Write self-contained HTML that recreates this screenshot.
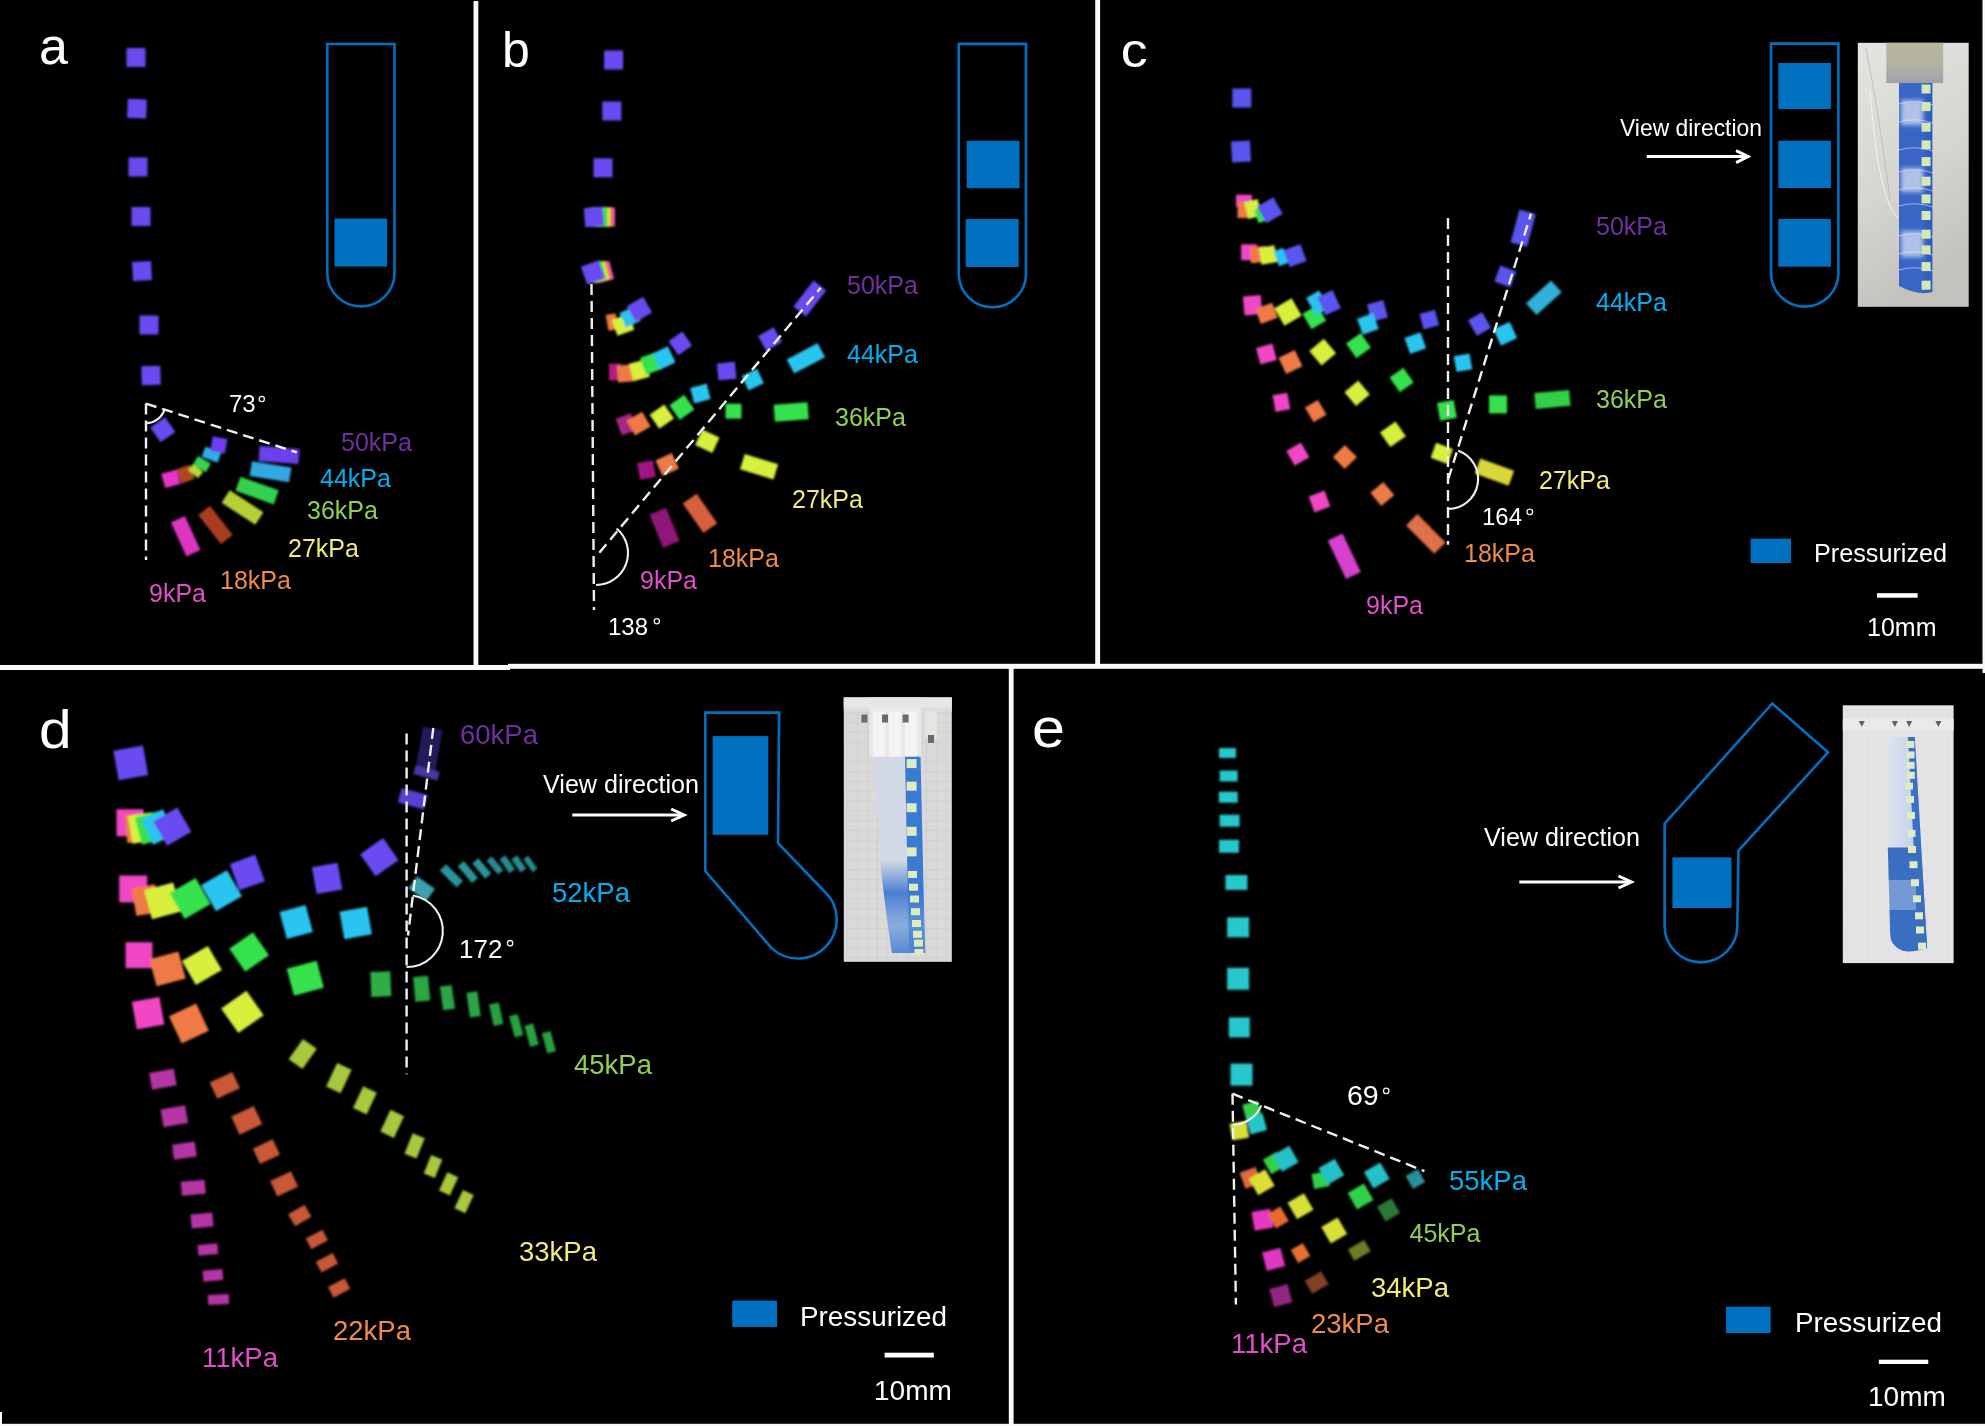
<!DOCTYPE html>
<html><head><meta charset="utf-8"><style>
html,body{margin:0;padding:0;background:#000;overflow:hidden}
svg{display:block}
text{font-family:"Liberation Sans",sans-serif}
</style></head><body>
<svg width="1985" height="1426" viewBox="0 0 1985 1426">
<rect x="0" y="0" width="1985" height="1426" fill="#000"/>
<defs><filter id="bl" x="-5%" y="-5%" width="110%" height="110%"><feGaussianBlur stdDeviation="1"/></filter></defs><g filter="url(#bl)"><rect x="126.5" y="48.0" width="19.0" height="19.0" fill="#6b4cf2"/>
<rect x="127.5" y="99.1" width="19.0" height="19.0" fill="#6b4cf2" transform="rotate(2 137.0 108.6)"/>
<rect x="128.5" y="157.5" width="19.0" height="19.0" fill="#6b4cf2"/>
<rect x="131.5" y="207.0" width="19.0" height="19.0" fill="#6b4cf2"/>
<rect x="132.5" y="261.5" width="19.0" height="19.0" fill="#6b4cf2" transform="rotate(-3 142.0 271.0)"/>
<rect x="139.5" y="315.5" width="19.0" height="19.0" fill="#6b4cf2"/>
<rect x="141.5" y="366.0" width="19.0" height="19.0" fill="#6b4cf2" transform="rotate(-2 151.0 375.5)"/>
<rect x="153.8" y="420.7" width="18.0" height="18.0" fill="#6b4cf2" transform="rotate(-35 162.8 429.7)"/>
<rect x="162.9" y="471.3" width="16.0" height="15.0" fill="#e434c4" transform="rotate(-15 170.9 478.8)"/>
<rect x="178.5" y="466.7" width="14.0" height="15.0" fill="#b04424" transform="rotate(-20 185.5 474.2)"/>
<rect x="189.1" y="467.0" width="13.0" height="8.0" fill="#b8d834" transform="rotate(40 195.6 471.0)"/>
<rect x="194.4" y="459.2" width="15.0" height="10.0" fill="#34d450" transform="rotate(30 201.9 464.2)"/>
<rect x="203.0" y="449.1" width="17.0" height="11.0" fill="#30ace4" transform="rotate(20 211.5 454.6)"/>
<rect x="211.3" y="437.5" width="15.0" height="15.0" fill="#6c40f0" transform="rotate(10 218.8 445.0)"/>
<rect x="259.0" y="447.5" width="40.0" height="15.0" fill="#6c40f0" transform="rotate(4 279.0 455.0)"/>
<rect x="250.5" y="464.2" width="40.0" height="15.0" fill="#30a8e0" transform="rotate(9 270.5 471.7)"/>
<rect x="236.8" y="483.1" width="40.6" height="15.0" fill="#34d050" transform="rotate(19.6 257.1 490.6)"/>
<rect x="222.4" y="500.0" width="40.2" height="15.0" fill="#b4d034" transform="rotate(33 242.5 507.5)"/>
<rect x="197.0" y="517.5" width="37.0" height="15.0" fill="#a83c22" transform="rotate(52 215.5 525.0)"/>
<rect x="166.9" y="528.5" width="37.5" height="15.5" fill="#dc34c0" transform="rotate(65.6 185.7 536.2)"/>
<rect x="604.1" y="50.5" width="19.0" height="19.0" fill="#6b4cf2"/>
<rect x="602.3" y="101.5" width="19.0" height="19.0" fill="#6b4cf2"/>
<rect x="593.5" y="158.3" width="19.0" height="19.0" fill="#6b4cf2"/>
<rect x="597.0" y="207.5" width="18.0" height="19.0" fill="#f046c4"/>
<rect x="594.5" y="207.5" width="18.0" height="19.0" fill="#f07a44"/>
<rect x="592.0" y="207.5" width="18.0" height="19.0" fill="#d8f03c"/>
<rect x="589.5" y="207.5" width="18.0" height="19.0" fill="#34e24e"/>
<rect x="584.5" y="207.5" width="19.0" height="19.0" fill="#6b4cf2" transform="rotate(-5 594.0 217.0)"/>
<rect x="596.0" y="262.5" width="16.0" height="19.0" fill="#f046c4" transform="rotate(-15 604.0 272.0)"/>
<rect x="593.5" y="262.5" width="16.0" height="19.0" fill="#f07a44" transform="rotate(-15 601.5 272.0)"/>
<rect x="591.0" y="262.5" width="16.0" height="19.0" fill="#d8f03c" transform="rotate(-15 599.0 272.0)"/>
<rect x="588.5" y="262.5" width="16.0" height="19.0" fill="#34e24e" transform="rotate(-15 596.5 272.0)"/>
<rect x="583.5" y="263.0" width="19.0" height="19.0" fill="#6b4cf2" transform="rotate(-20 593.0 272.5)"/>
<rect x="607.0" y="314.0" width="10.0" height="16.0" fill="#f07a44" transform="rotate(-10 612.0 322.0)"/>
<rect x="614.0" y="316.3" width="18.0" height="17.0" fill="#d8f03c" transform="rotate(-20 623.0 324.8)"/>
<rect x="622.0" y="309.0" width="16.0" height="16.0" fill="#2cc4f0" transform="rotate(-25 630.0 317.0)"/>
<rect x="629.9" y="300.4" width="19.0" height="18.0" fill="#6b4cf2" transform="rotate(-30 639.4 309.4)"/>
<rect x="609.0" y="363.5" width="12.0" height="17.0" fill="#b01c80"/>
<rect x="617.5" y="364.9" width="16.0" height="17.0" fill="#f07a44" transform="rotate(-5 625.5 373.4)"/>
<rect x="630.9" y="361.3" width="17.0" height="18.0" fill="#d8f03c" transform="rotate(-15 639.4 370.3)"/>
<rect x="642.5" y="354.4" width="17.0" height="18.0" fill="#34e24e" transform="rotate(-20 651.0 363.4)"/>
<rect x="655.5" y="349.0" width="17.0" height="18.0" fill="#2cc4f0" transform="rotate(-25 664.0 358.0)"/>
<rect x="671.8" y="334.8" width="17.0" height="17.0" fill="#6b4cf2" transform="rotate(-35 680.3 343.3)"/>
<rect x="618.3" y="415.4" width="16.0" height="18.0" fill="#a82888" transform="rotate(-20 626.3 424.4)"/>
<rect x="629.6" y="415.1" width="18.0" height="17.0" fill="#f07a44" transform="rotate(-30 638.6 423.6)"/>
<rect x="652.8" y="408.1" width="18.0" height="17.0" fill="#d8f03c" transform="rotate(-35 661.8 416.6)"/>
<rect x="672.9" y="398.4" width="18.0" height="18.0" fill="#34e24e" transform="rotate(-35 681.9 407.4)"/>
<rect x="691.9" y="385.5" width="17.0" height="16.0" fill="#2cc4f0" transform="rotate(-15 700.4 393.5)"/>
<rect x="717.6" y="362.6" width="18.0" height="17.0" fill="#6b4cf2" transform="rotate(-5 726.6 371.1)"/>
<rect x="761.0" y="330.6" width="18.0" height="17.0" fill="#6b4cf2" transform="rotate(-30 770.0 339.1)"/>
<rect x="793.3" y="290.5" width="33.0" height="16.0" fill="#6b4cf2" transform="rotate(-52 809.8 298.5)"/>
<rect x="744.3" y="371.6" width="17.0" height="16.0" fill="#2cc4f0" transform="rotate(-25 752.8 379.6)"/>
<rect x="725.5" y="403.7" width="16.0" height="15.0" fill="#34e24e"/>
<rect x="697.8" y="432.8" width="19.0" height="17.0" fill="#d8f03c" transform="rotate(25 707.3 441.3)"/>
<rect x="658.2" y="456.0" width="18.0" height="17.0" fill="#f07a44" transform="rotate(-25 667.2 464.5)"/>
<rect x="638.4" y="461.4" width="16.0" height="17.0" fill="#a01880" transform="rotate(-10 646.4 469.9)"/>
<rect x="788.4" y="350.3" width="35.0" height="16.0" fill="#2cc4f0" transform="rotate(-28 805.9 358.3)"/>
<rect x="774.2" y="403.5" width="34.0" height="17.0" fill="#34e24e" transform="rotate(-4 791.2 412.0)"/>
<rect x="741.6" y="458.8" width="35.0" height="16.0" fill="#d8f03c" transform="rotate(17 759.1 466.8)"/>
<rect x="646.6" y="518.7" width="36.0" height="18.0" fill="#901878" transform="rotate(68 664.6 527.7)"/>
<rect x="682.0" y="504.8" width="36.0" height="17.0" fill="#d8603c" transform="rotate(55 700.0 513.3)"/>
<rect x="1232.3" y="88.5" width="19.0" height="19.0" fill="#5a55ee"/>
<rect x="1231.5" y="141.0" width="19.0" height="21.0" fill="#5a55ee" transform="rotate(-3 1241.0 151.5)"/>
<rect x="1236.0" y="194.7" width="16.0" height="12.0" fill="#f046c4"/>
<rect x="1237.5" y="202.0" width="12.0" height="16.0" fill="#f07a44"/>
<rect x="1246.0" y="200.5" width="14.0" height="17.0" fill="#d8f03c" transform="rotate(-15 1253.0 209.0)"/>
<rect x="1256.0" y="208.0" width="10.0" height="14.0" fill="#34e24e" transform="rotate(-20 1261.0 215.0)"/>
<rect x="1260.3" y="200.8" width="19.0" height="19.0" fill="#5a55ee" transform="rotate(-30 1269.8 210.3)"/>
<rect x="1241.1" y="244.3" width="16.0" height="16.0" fill="#f046c4"/>
<rect x="1250.3" y="246.6" width="16.0" height="16.0" fill="#f07a44" transform="rotate(-5 1258.3 254.6)"/>
<rect x="1260.0" y="246.5" width="16.0" height="17.0" fill="#d8f03c" transform="rotate(-10 1268.0 255.0)"/>
<rect x="1276.0" y="249.0" width="10.0" height="16.0" fill="#2cc4f0" transform="rotate(-20 1281.0 257.0)"/>
<rect x="1286.0" y="246.6" width="18.0" height="18.0" fill="#5a55ee" transform="rotate(-20 1295.0 255.6)"/>
<rect x="1243.6" y="295.8" width="18.0" height="19.0" fill="#f046c4" transform="rotate(-5 1252.6 305.3)"/>
<rect x="1257.5" y="305.3" width="18.0" height="16.0" fill="#f07a44" transform="rotate(-20 1266.5 313.3)"/>
<rect x="1278.0" y="302.0" width="20.0" height="20.0" fill="#d8f03c" transform="rotate(-30 1288.0 312.0)"/>
<rect x="1305.8" y="308.2" width="17.0" height="18.0" fill="#34e24e" transform="rotate(-30 1314.3 317.2)"/>
<rect x="1310.1" y="293.0" width="15.0" height="20.0" fill="#2cc4f0" transform="rotate(-30 1317.6 303.0)"/>
<rect x="1320.5" y="292.7" width="17.0" height="20.0" fill="#5a55ee" transform="rotate(-25 1329.0 302.7)"/>
<rect x="1368.9" y="301.9" width="17.0" height="18.0" fill="#5a55ee" transform="rotate(-15 1377.4 310.9)"/>
<rect x="1359.4" y="315.3" width="17.0" height="17.0" fill="#2cc4f0" transform="rotate(-20 1367.9 323.8)"/>
<rect x="1421.3" y="311.6" width="16.0" height="16.0" fill="#5a55ee" transform="rotate(-15 1429.3 319.6)"/>
<rect x="1406.8" y="334.6" width="17.0" height="17.0" fill="#2cc4f0" transform="rotate(-20 1415.3 343.1)"/>
<rect x="1471.5" y="315.7" width="16.0" height="17.0" fill="#5a55ee" transform="rotate(-30 1479.5 324.2)"/>
<rect x="1455.0" y="354.7" width="16.0" height="16.0" fill="#2cc4f0" transform="rotate(-10 1463.0 362.7)"/>
<rect x="1257.9" y="345.5" width="17.0" height="17.0" fill="#f046c4" transform="rotate(-15 1266.4 354.0)"/>
<rect x="1281.5" y="353.0" width="18.0" height="18.0" fill="#f07a44" transform="rotate(-25 1290.5 362.0)"/>
<rect x="1313.2" y="342.7" width="19.0" height="19.0" fill="#d8f03c" transform="rotate(-40 1322.7 352.2)"/>
<rect x="1349.5" y="336.6" width="18.0" height="18.0" fill="#34e24e" transform="rotate(-35 1358.5 345.6)"/>
<rect x="1273.9" y="393.8" width="15.0" height="17.0" fill="#f046c4" transform="rotate(-10 1281.4 402.3)"/>
<rect x="1308.2" y="402.6" width="15.0" height="17.0" fill="#f07a44" transform="rotate(-30 1315.7 411.1)"/>
<rect x="1348.1" y="384.3" width="18.0" height="18.0" fill="#d8f03c" transform="rotate(-40 1357.1 393.3)"/>
<rect x="1393.1" y="370.9" width="17.0" height="18.0" fill="#34e24e" transform="rotate(-35 1401.6 379.9)"/>
<rect x="1289.3" y="445.7" width="17.0" height="17.0" fill="#f046c4" transform="rotate(-30 1297.8 454.2)"/>
<rect x="1336.4" y="448.5" width="17.0" height="17.0" fill="#f07a44" transform="rotate(-45 1344.9 457.0)"/>
<rect x="1383.4" y="425.3" width="19.0" height="18.0" fill="#d8f03c" transform="rotate(-35 1392.9 434.3)"/>
<rect x="1438.4" y="401.4" width="17.0" height="18.0" fill="#34e24e" transform="rotate(-10 1446.9 410.4)"/>
<rect x="1432.8" y="445.4" width="18.0" height="16.0" fill="#d8f03c" transform="rotate(20 1441.8 453.4)"/>
<rect x="1489.0" y="395.4" width="18.0" height="18.0" fill="#34e24e"/>
<rect x="1534.9" y="391.4" width="35.0" height="16.0" fill="#30d048" transform="rotate(-5 1552.4 399.4)"/>
<rect x="1496.8" y="268.0" width="17.0" height="17.0" fill="#5a55ee" transform="rotate(20 1505.3 276.5)"/>
<rect x="1471.5" y="315.0" width="16.0" height="18.0" fill="#5a55ee" transform="rotate(-30 1479.5 324.0)"/>
<rect x="1496.3" y="324.7" width="18.0" height="18.0" fill="#2cc4f0" transform="rotate(-25 1505.3 333.7)"/>
<rect x="1526.8" y="289.8" width="34.0" height="16.0" fill="#30b0d8" transform="rotate(-42 1543.8 297.8)"/>
<rect x="1506.2" y="219.7" width="34.0" height="17.0" fill="#5a55ee" transform="rotate(-75 1523.2 228.2)"/>
<rect x="1476.5" y="464.1" width="36.0" height="16.0" fill="#d8d838" transform="rotate(20 1494.5 472.1)"/>
<rect x="1311.0" y="493.0" width="17.0" height="17.0" fill="#f046c4" transform="rotate(-20 1319.5 501.5)"/>
<rect x="1373.8" y="485.4" width="17.0" height="17.0" fill="#f07a44" transform="rotate(-40 1382.3 493.9)"/>
<rect x="1323.0" y="548.0" width="42.6" height="16.5" fill="#d840d0" transform="rotate(64.5 1344.3 556.2)"/>
<rect x="1405.8" y="525.9" width="40.0" height="16.0" fill="#e0704a" transform="rotate(45 1425.8 533.9)"/>
<rect x="115.8" y="747.8" width="30.0" height="30.0" fill="#6b4cf2" transform="rotate(-10 130.8 762.8)"/>
<rect x="116.5" y="809.2" width="27.0" height="27.0" fill="#f046c4"/>
<rect x="126.0" y="814.0" width="24.0" height="28.0" fill="#f07a44" transform="rotate(-5 138.0 828.0)"/>
<rect x="130.0" y="814.0" width="24.0" height="28.0" fill="#d8f03c" transform="rotate(-10 142.0 828.0)"/>
<rect x="138.0" y="814.0" width="24.0" height="28.0" fill="#34e24e" transform="rotate(-15 150.0 828.0)"/>
<rect x="146.0" y="813.0" width="24.0" height="28.0" fill="#2cc4f0" transform="rotate(-25 158.0 827.0)"/>
<rect x="158.2" y="812.7" width="28.0" height="28.0" fill="#6b4cf2" transform="rotate(-30 172.2 826.7)"/>
<rect x="119.2" y="875.5" width="28.0" height="27.0" fill="#f046c4"/>
<rect x="133.7" y="886.2" width="24.0" height="28.0" fill="#f07a44" transform="rotate(-10 145.7 900.2)"/>
<rect x="147.6" y="885.8" width="30.0" height="30.0" fill="#d8f03c" transform="rotate(-15 162.6 900.8)"/>
<rect x="175.1" y="883.4" width="30.0" height="30.0" fill="#34e24e" transform="rotate(-30 190.1 898.4)"/>
<rect x="206.5" y="875.8" width="30.0" height="30.0" fill="#2cc4f0" transform="rotate(-30 221.5 890.8)"/>
<rect x="233.8" y="858.6" width="27.0" height="28.0" fill="#6b4cf2" transform="rotate(-20 247.3 872.6)"/>
<rect x="314.1" y="864.9" width="26.0" height="27.0" fill="#6b4cf2" transform="rotate(-10 327.1 878.4)"/>
<rect x="365.3" y="843.7" width="28.0" height="27.0" fill="#6b4cf2" transform="rotate(-35 379.3 857.2)"/>
<rect x="125.5" y="942.2" width="27.0" height="26.0" fill="#f046c4"/>
<rect x="152.5" y="954.8" width="30.0" height="28.0" fill="#f07a44" transform="rotate(-15 167.5 968.8)"/>
<rect x="186.9" y="951.5" width="30.0" height="28.0" fill="#d8f03c" transform="rotate(-30 201.9 965.5)"/>
<rect x="234.6" y="938.0" width="29.0" height="28.0" fill="#34e24e" transform="rotate(-35 249.1 952.0)"/>
<rect x="282.7" y="908.0" width="27.0" height="28.0" fill="#2cc4f0" transform="rotate(-15 296.2 922.0)"/>
<rect x="341.7" y="909.0" width="28.0" height="28.0" fill="#2cc4f0" transform="rotate(-10 355.7 923.0)"/>
<rect x="134.1" y="999.2" width="28.0" height="28.0" fill="#f046c4" transform="rotate(-10 148.1 1013.2)"/>
<rect x="173.9" y="1008.5" width="30.0" height="30.0" fill="#f07a44" transform="rotate(-25 188.9 1023.5)"/>
<rect x="226.9" y="996.9" width="31.0" height="30.0" fill="#d8f03c" transform="rotate(-35 242.4 1011.9)"/>
<rect x="289.8" y="964.2" width="31.0" height="28.0" fill="#34e24e" transform="rotate(-15 305.3 978.2)"/>
<rect x="399.3" y="791.3" width="27.0" height="15.0" fill="#5a40d0" transform="rotate(15 412.8 798.8)"/>
<rect x="370.8" y="971.7" width="20.0" height="25.0" fill="#2eae44" transform="rotate(-2 380.8 984.2)"/>
<rect x="414.2" y="976.3" width="15.0" height="25.0" fill="#2aa644" transform="rotate(-5 421.7 988.8)"/>
<rect x="441.4" y="985.6" width="12.0" height="24.0" fill="#2aa644" transform="rotate(-8 447.4 997.6)"/>
<rect x="468.1" y="991.8" width="11.0" height="25.0" fill="#2aa644" transform="rotate(-8 473.6 1004.3)"/>
<rect x="491.2" y="1003.3" width="10.0" height="22.0" fill="#28a040" transform="rotate(-12 496.2 1014.3)"/>
<rect x="511.7" y="1014.8" width="9.0" height="22.0" fill="#28a040" transform="rotate(-15 516.2 1025.8)"/>
<rect x="527.1" y="1024.1" width="9.0" height="22.0" fill="#28a040" transform="rotate(-15 531.6 1035.1)"/>
<rect x="544.4" y="1031.8" width="9.0" height="21.0" fill="#28a040" transform="rotate(-15 548.9 1042.3)"/>
<rect x="418.6" y="728.2" width="20.0" height="48.0" fill="#221c64" opacity="0.9" transform="rotate(10 428.6 752.2)"/>
<rect x="414.0" y="768.4" width="25.0" height="9.0" fill="#4a38a0" transform="rotate(15 426.5 772.9)"/>
<rect x="410.7" y="881.1" width="22.0" height="15.0" fill="#3aa0b0" transform="rotate(35 421.7 888.6)"/>
<rect x="446.9" y="863.8" width="9.0" height="24.0" fill="#2a9498" transform="rotate(-45 451.4 875.8)"/>
<rect x="463.9" y="861.1" width="8.0" height="22.0" fill="#2a9498" transform="rotate(-40 467.9 872.1)"/>
<rect x="477.8" y="858.5" width="8.0" height="20.0" fill="#2a9498" transform="rotate(-40 481.8 868.5)"/>
<rect x="491.4" y="856.4" width="7.0" height="18.0" fill="#288a90" transform="rotate(-40 494.9 865.4)"/>
<rect x="503.8" y="855.7" width="7.0" height="17.0" fill="#288a90" transform="rotate(-35 507.3 864.2)"/>
<rect x="515.3" y="855.9" width="7.0" height="16.0" fill="#288a90" transform="rotate(-35 518.8 863.9)"/>
<rect x="527.4" y="855.9" width="6.0" height="16.0" fill="#288a90" transform="rotate(-35 530.4 863.9)"/>
<rect x="150.4" y="1070.6" width="25.0" height="17.0" fill="#b434a4" transform="rotate(-10 162.9 1079.1)"/>
<rect x="161.8" y="1107.2" width="25.0" height="18.0" fill="#b434a4" transform="rotate(-10 174.3 1116.2)"/>
<rect x="172.9" y="1143.1" width="23.0" height="15.0" fill="#b434a4" transform="rotate(-8 184.4 1150.6)"/>
<rect x="181.2" y="1180.7" width="24.0" height="14.0" fill="#b434a4" transform="rotate(-5 193.2 1187.7)"/>
<rect x="191.0" y="1213.5" width="22.0" height="14.0" fill="#b434a4" transform="rotate(-5 202.0 1220.5)"/>
<rect x="197.9" y="1244.0" width="20.0" height="11.0" fill="#b434a4" transform="rotate(-5 207.9 1249.5)"/>
<rect x="202.9" y="1269.8" width="20.0" height="11.0" fill="#b434a4" transform="rotate(-5 212.9 1275.3)"/>
<rect x="208.0" y="1294.5" width="21.0" height="10.0" fill="#b434a4" transform="rotate(-3 218.5 1299.5)"/>
<rect x="212.3" y="1076.4" width="25.0" height="18.0" fill="#c85838" transform="rotate(-25 224.8 1085.4)"/>
<rect x="234.2" y="1110.3" width="25.0" height="20.0" fill="#c85838" transform="rotate(-25 246.7 1120.3)"/>
<rect x="255.4" y="1143.1" width="22.0" height="17.0" fill="#c85838" transform="rotate(-25 266.4 1151.6)"/>
<rect x="272.6" y="1175.4" width="23.0" height="17.0" fill="#c85838" transform="rotate(-25 284.1 1183.9)"/>
<rect x="290.3" y="1208.5" width="19.0" height="14.0" fill="#c85838" transform="rotate(-30 299.8 1215.5)"/>
<rect x="307.4" y="1233.4" width="19.0" height="12.0" fill="#c85838" transform="rotate(-28 316.9 1239.4)"/>
<rect x="317.5" y="1256.7" width="19.0" height="12.0" fill="#c85838" transform="rotate(-28 327.0 1262.7)"/>
<rect x="329.6" y="1281.9" width="19.0" height="12.0" fill="#c85838" transform="rotate(-28 339.1 1287.9)"/>
<rect x="294.2" y="1041.5" width="17.0" height="25.0" fill="#a8c83c" transform="rotate(35 302.7 1054.0)"/>
<rect x="330.9" y="1065.2" width="16.0" height="26.0" fill="#a8c83c" transform="rotate(25 338.9 1078.2)"/>
<rect x="357.4" y="1088.4" width="15.0" height="24.0" fill="#a8c83c" transform="rotate(25 364.9 1100.4)"/>
<rect x="384.7" y="1111.9" width="15.0" height="24.0" fill="#a8c83c" transform="rotate(25 392.2 1123.9)"/>
<rect x="408.1" y="1134.9" width="13.0" height="22.0" fill="#a8c83c" transform="rotate(22 414.6 1145.9)"/>
<rect x="427.0" y="1156.6" width="12.0" height="20.0" fill="#a8c83c" transform="rotate(22 433.0 1166.6)"/>
<rect x="442.6" y="1173.9" width="12.0" height="20.0" fill="#a8c83c" transform="rotate(25 448.6 1183.9)"/>
<rect x="458.1" y="1191.6" width="12.0" height="20.0" fill="#a8c83c" transform="rotate(25 464.1 1201.6)"/>
<rect x="1219.0" y="748.0" width="17.0" height="10.0" fill="#28c8cc"/>
<rect x="1219.6" y="770.5" width="18.0" height="11.0" fill="#28c8cc"/>
<rect x="1218.8" y="791.7" width="19.0" height="11.0" fill="#28c8cc"/>
<rect x="1219.6" y="814.7" width="20.0" height="12.0" fill="#28c8cc"/>
<rect x="1219.0" y="839.8" width="20.0" height="13.0" fill="#28c8cc"/>
<rect x="1225.4" y="875.0" width="22.0" height="15.0" fill="#28c8cc"/>
<rect x="1227.1" y="917.3" width="22.0" height="20.0" fill="#28c8cc"/>
<rect x="1227.1" y="967.8" width="22.0" height="22.0" fill="#28c8cc"/>
<rect x="1228.8" y="1017.4" width="21.0" height="20.0" fill="#28c8cc"/>
<rect x="1230.5" y="1063.6" width="22.0" height="22.0" fill="#28c8cc"/>
<rect x="1244.0" y="1102.5" width="16.0" height="16.0" fill="#30d048" transform="rotate(-15 1252.0 1110.5)"/>
<rect x="1230.8" y="1122.2" width="17.0" height="17.0" fill="#d8e038" transform="rotate(-10 1239.3 1130.7)"/>
<rect x="1248.1" y="1115.5" width="17.0" height="17.0" fill="#28c8cc" transform="rotate(-15 1256.6 1124.0)"/>
<rect x="1266.0" y="1154.5" width="16.0" height="17.0" fill="#30d048" transform="rotate(-30 1274.0 1163.0)"/>
<rect x="1276.2" y="1149.2" width="19.0" height="19.0" fill="#28c0c8" transform="rotate(-30 1285.7 1158.7)"/>
<rect x="1242.0" y="1169.3" width="17.0" height="17.0" fill="#e06a40" transform="rotate(-20 1250.5 1177.8)"/>
<rect x="1252.2" y="1172.8" width="19.0" height="19.0" fill="#d8e038" transform="rotate(-30 1261.7 1182.3)"/>
<rect x="1312.7" y="1172.6" width="16.0" height="15.0" fill="#30d048" transform="rotate(-10 1320.7 1180.1)"/>
<rect x="1321.8" y="1162.3" width="19.0" height="19.0" fill="#28c0c8" transform="rotate(-30 1331.3 1171.8)"/>
<rect x="1367.3" y="1166.1" width="19.0" height="19.0" fill="#28c0c8" transform="rotate(-30 1376.8 1175.6)"/>
<rect x="1408.4" y="1171.4" width="14.0" height="15.0" fill="#2a9098" transform="rotate(-30 1415.4 1178.9)"/>
<rect x="1351.0" y="1186.9" width="19.0" height="19.0" fill="#30d048" transform="rotate(-30 1360.5 1196.4)"/>
<rect x="1380.0" y="1201.4" width="17.0" height="17.0" fill="#2a7838" transform="rotate(-30 1388.5 1209.9)"/>
<rect x="1252.9" y="1210.3" width="19.0" height="19.0" fill="#e838c0" transform="rotate(-10 1262.4 1219.8)"/>
<rect x="1270.6" y="1209.0" width="15.0" height="17.0" fill="#e86a30" transform="rotate(-30 1278.1 1217.5)"/>
<rect x="1291.0" y="1196.8" width="19.0" height="19.0" fill="#d8e038" transform="rotate(-30 1300.5 1206.3)"/>
<rect x="1324.7" y="1221.1" width="19.0" height="19.0" fill="#d8e038" transform="rotate(-30 1334.2 1230.6)"/>
<rect x="1349.8" y="1243.8" width="19.0" height="13.0" fill="#707a28" transform="rotate(-30 1359.3 1250.3)"/>
<rect x="1264.1" y="1249.8" width="19.0" height="19.0" fill="#e038c0" transform="rotate(-15 1273.6 1259.3)"/>
<rect x="1293.5" y="1245.5" width="14.0" height="15.0" fill="#e87030" transform="rotate(-30 1300.5 1253.0)"/>
<rect x="1307.2" y="1275.1" width="19.0" height="15.0" fill="#804028" transform="rotate(-30 1316.7 1282.6)"/>
<rect x="1271.3" y="1286.1" width="19.0" height="19.0" fill="#902880" transform="rotate(-15 1280.8 1295.6)"/></g>
<rect x="473.5" y="1" width="4.8" height="667" fill="#fafafa"/>
<rect x="1095.2" y="0" width="4.9" height="667" fill="#fafafa"/>
<rect x="1982.5" y="0" width="2.5" height="673" fill="#fafafa"/>
<rect x="0" y="665" width="510" height="5" fill="#fafafa"/>
<rect x="508" y="663.8" width="1477" height="5" fill="#fafafa"/>
<rect x="1008.8" y="668" width="4.8" height="756" fill="#fafafa"/>
<rect x="0" y="1423.8" width="1985" height="2.2" fill="#fafafa"/>
<rect x="0" y="1412" width="2" height="14" fill="#fafafa"/>
<text x="39" y="64" font-size="52" fill="#fff">a</text>
<path d="M327.3 272.9 L327.3 44 L394.5 44 L394.5 272.9 A33.599999999999994 33.599999999999994 0 0 1 327.3 272.9" fill="none" stroke="#0070c0" stroke-width="2.6"/>
<rect x="334.5" y="218.5" width="52.7" height="48" fill="#0070c0"/>
<line x1="146" y1="403.6" x2="146" y2="560" stroke="#f0f0f0" stroke-width="2.4" stroke-dasharray="11 6"/>
<line x1="146" y1="403.6" x2="296.7" y2="452.4" stroke="#f0f0f0" stroke-width="2.4" stroke-dasharray="11 6"/>
<path d="M146.0 423.1 A19.5 19.5 0 0 0 164.5 409.6" fill="none" stroke="#f0f0f0" stroke-width="2.1"/>
<text x="229" y="412" font-size="24" fill="#fff">73</text>
<circle cx="261.8" cy="399" r="2.6" fill="none" stroke="#eee" stroke-width="1.3"/>
<text x="341" y="451" font-size="25" fill="#7030a0">50kPa</text>
<text x="320" y="487" font-size="25" fill="#00b0f0">44kPa</text>
<text x="307" y="519" font-size="25" fill="#92d050">36kPa</text>
<text x="288" y="557" font-size="25" fill="#f2ec78">27kPa</text>
<text x="220" y="589" font-size="25" fill="#ee8c48">18kPa</text>
<text x="149" y="602" font-size="25" fill="#e050c8">9kPa</text>
<text x="502" y="67" font-size="50" fill="#fff">b</text>
<path d="M958.8 273.7 L958.8 43.9 L1026 43.9 L1026 273.7 A33.60000000000002 33.60000000000002 0 0 1 958.8 273.7" fill="none" stroke="#0070c0" stroke-width="2.6"/>
<rect x="966.7" y="140.8" width="52.8" height="47.4" fill="#0070c0"/>
<rect x="965.7" y="219.1" width="53" height="47.9" fill="#0070c0"/>
<line x1="591.5" y1="284" x2="594" y2="610" stroke="#f0f0f0" stroke-width="2.4" stroke-dasharray="11 6"/>
<line x1="599.3" y1="552.7" x2="820.7" y2="287.8" stroke="#f0f0f0" stroke-width="2.4" stroke-dasharray="11 6"/>
<path d="M596.0 585.0 A32 32 0 0 0 616.6 528.5" fill="none" stroke="#f0f0f0" stroke-width="2.1"/>
<text x="847" y="294" font-size="25" fill="#7030a0">50kPa</text>
<text x="847" y="363" font-size="25" fill="#00b0f0">44kPa</text>
<text x="835" y="426" font-size="25" fill="#92d050">36kPa</text>
<text x="792" y="508" font-size="25" fill="#f2ec78">27kPa</text>
<text x="708" y="566.5" font-size="25" fill="#ee8c48">18kPa</text>
<text x="640" y="589" font-size="25" fill="#e050c8">9kPa</text>
<text x="608" y="635" font-size="24" fill="#fff">138</text>
<circle cx="656.8" cy="621.3" r="2.6" fill="none" stroke="#eee" stroke-width="1.3"/>
<text transform="translate(1120.8 67) scale(1.12 1)" font-size="48" fill="#fff">c</text>
<line x1="1448" y1="218" x2="1448" y2="544.7" stroke="#f0f0f0" stroke-width="2.4" stroke-dasharray="11 6"/>
<line x1="1448.3" y1="479" x2="1531" y2="213.7" stroke="#f0f0f0" stroke-width="2.4" stroke-dasharray="11 6"/>
<path d="M1448.0 509.0 A30 30 0 0 0 1458.3 450.8" fill="none" stroke="#f0f0f0" stroke-width="2.1"/>
<text x="1596" y="235" font-size="25" fill="#7030a0">50kPa</text>
<text x="1596" y="311.3" font-size="25" fill="#00b0f0">44kPa</text>
<text x="1596" y="407.7" font-size="25" fill="#92d050">36kPa</text>
<text x="1539" y="488.5" font-size="25" fill="#f2ec78">27kPa</text>
<text x="1464" y="561.5" font-size="25" fill="#ee8c48">18kPa</text>
<text x="1366" y="613.7" font-size="25" fill="#e050c8">9kPa</text>
<text x="1482" y="524.5" font-size="24" fill="#fff">164</text>
<circle cx="1529.8" cy="511.9" r="2.8" fill="none" stroke="#eee" stroke-width="1.3"/>
<path d="M1771 272.9 L1771 43.6 L1838.4 43.6 L1838.4 272.9 A33.700000000000045 33.700000000000045 0 0 1 1771 272.9" fill="none" stroke="#0070c0" stroke-width="2.6"/>
<rect x="1778.3" y="63" width="52.6" height="46.1" fill="#0070c0"/>
<rect x="1778.3" y="140.7" width="52.6" height="47.3" fill="#0070c0"/>
<rect x="1778.3" y="218.9" width="52.6" height="47.8" fill="#0070c0"/>
<text x="1620" y="135.6" font-size="24" fill="#fff" textLength="142" lengthAdjust="spacingAndGlyphs">View direction</text>
<line x1="1646.7" y1="156.6" x2="1747.1" y2="156.6" stroke="#fff" stroke-width="3"/>
<polyline points="1736.1,150.6 1748.1,156.6 1736.1,162.6" fill="none" stroke="#fff" stroke-width="3" stroke-linejoin="miter"/>
<rect x="1750.6" y="538.6" width="40.4" height="24.4" fill="#0070c0"/>
<text x="1814" y="562.4" font-size="25" fill="#fff" textLength="133" lengthAdjust="spacingAndGlyphs">Pressurized</text>
<rect x="1877" y="593.2" width="40.6" height="4.5" fill="#fff"/>
<text x="1867" y="635.6" font-size="25" fill="#fff">10mm</text>
<defs><linearGradient id="pgc" x1="0" y1="0" x2="0.3" y2="1"><stop offset="0" stop-color="#e4e4e0"/><stop offset="0.6" stop-color="#d4d4d0"/><stop offset="1" stop-color="#c4c2bc"/></linearGradient><linearGradient id="hold" x1="0" y1="0" x2="0" y2="1"><stop offset="0" stop-color="#bab69c"/><stop offset="0.55" stop-color="#b2b2a2"/><stop offset="1" stop-color="#9ea2a8"/></linearGradient><linearGradient id="colc" x1="0" y1="0" x2="1" y2="0"><stop offset="0" stop-color="#3a64c4"/><stop offset="0.7" stop-color="#3a66c8"/><stop offset="1" stop-color="#2c58b8"/></linearGradient><linearGradient id="bandc" x1="0" y1="0" x2="1" y2="0"><stop offset="0" stop-color="#ffffff" stop-opacity="0.15"/><stop offset="0.35" stop-color="#ffffff" stop-opacity="0.75"/><stop offset="1" stop-color="#ffffff" stop-opacity="0.1"/></linearGradient></defs>
<rect x="1857.8" y="42.8" width="110.9" height="264" fill="url(#pgc)"/>
<path d="M1866 48 Q1880 120 1890 200" fill="none" stroke="#b8b8c0" stroke-width="0.8"/>
<path d="M1870 90 Q1878 200 1898 218" fill="none" stroke="#f4f4f4" stroke-width="1"/>
<path d="M1899 72 L1932.4 72 L1932.4 292 Q1918 296 1899 286 Z" fill="url(#colc)"/>
<defs><filter id="soft" x="-50%" y="-50%" width="200%" height="200%"><feGaussianBlur stdDeviation="2.2"/></filter></defs>
<rect x="1901" y="100" width="22" height="25" fill="#ffffff" opacity="0.6" filter="url(#soft)"/>
<rect x="1901" y="168" width="22" height="24" fill="#ffffff" opacity="0.6" filter="url(#soft)"/>
<rect x="1901" y="231" width="22" height="26" fill="#ffffff" opacity="0.6" filter="url(#soft)"/>
<path d="M1899 104 Q1915 99 1933 105" fill="none" stroke="#e8eef8" stroke-width="0.8" opacity="0.7"/>
<path d="M1899 122 Q1915 117 1933 123" fill="none" stroke="#e8eef8" stroke-width="0.8" opacity="0.7"/>
<path d="M1899 150 Q1915 145 1933 151" fill="none" stroke="#e8eef8" stroke-width="0.8" opacity="0.7"/>
<path d="M1899 172 Q1915 167 1933 173" fill="none" stroke="#e8eef8" stroke-width="0.8" opacity="0.7"/>
<path d="M1899 190 Q1915 185 1933 191" fill="none" stroke="#e8eef8" stroke-width="0.8" opacity="0.7"/>
<path d="M1899 206 Q1915 201 1933 207" fill="none" stroke="#e8eef8" stroke-width="0.8" opacity="0.7"/>
<path d="M1899 236 Q1915 231 1933 237" fill="none" stroke="#e8eef8" stroke-width="0.8" opacity="0.7"/>
<path d="M1899 254 Q1915 249 1933 255" fill="none" stroke="#e8eef8" stroke-width="0.8" opacity="0.7"/>
<path d="M1899 270 Q1915 265 1933 271" fill="none" stroke="#e8eef8" stroke-width="0.8" opacity="0.7"/>
<rect x="1886.3" y="42.8" width="56.9" height="40.3" fill="url(#hold)"/>
<rect x="1921.6" y="84.5" width="9" height="9" fill="#d4e8b4"/>
<rect x="1921.6" y="102.1" width="9" height="9" fill="#d4e8b4"/>
<rect x="1921.6" y="122.7" width="9" height="9" fill="#d4e8b4"/>
<rect x="1921.6" y="140.4" width="9" height="9" fill="#d4e8b4"/>
<rect x="1921.6" y="157.1" width="9" height="9" fill="#d4e8b4"/>
<rect x="1921.6" y="176.7" width="9" height="9" fill="#d4e8b4"/>
<rect x="1921.6" y="194.4" width="9" height="9" fill="#d4e8b4"/>
<rect x="1921.6" y="211.0" width="9" height="9" fill="#d4e8b4"/>
<rect x="1921.6" y="229.7" width="9" height="9" fill="#d4e8b4"/>
<rect x="1921.6" y="245.4" width="9" height="9" fill="#d4e8b4"/>
<rect x="1921.6" y="262.1" width="9" height="9" fill="#d4e8b4"/>
<rect x="1921.6" y="280.7" width="9" height="9" fill="#d4e8b4"/>
<text transform="translate(39 747.9) scale(1.088 1)" font-size="54" fill="#fff">d</text>
<line x1="406.6" y1="733.6" x2="406.6" y2="1074.3" stroke="#f0f0f0" stroke-width="2.4" stroke-dasharray="11 6"/>
<line x1="433.3" y1="728" x2="408" y2="935.5" stroke="#f0f0f0" stroke-width="2.4" stroke-dasharray="11 6"/>
<path d="M406.5 967.0 A36 36 0 0 0 412.8 895.5" fill="none" stroke="#f0f0f0" stroke-width="2.1"/>
<text x="460" y="743.5" font-size="27.5" fill="#7030a0">60kPa</text>
<text x="552" y="902.4" font-size="27.5" fill="#00b0f0">52kPa</text>
<text x="574" y="1074.3" font-size="27.5" fill="#92d050">45kPa</text>
<text x="519" y="1261" font-size="27.5" fill="#f2ec78">33kPa</text>
<text x="333" y="1340.4" font-size="27.5" fill="#ee8c48">22kPa</text>
<text x="202" y="1367" font-size="27.5" fill="#e050c8">11kPa</text>
<text x="459" y="957.9" font-size="26" fill="#fff">172</text>
<circle cx="510.1" cy="943.2" r="2.7" fill="none" stroke="#eee" stroke-width="1.3"/>
<text x="543" y="792.5" font-size="26" fill="#fff" textLength="156" lengthAdjust="spacingAndGlyphs">View direction</text>
<line x1="572.3" y1="815" x2="683.2" y2="815" stroke="#fff" stroke-width="3"/>
<polyline points="671.2,809 684.2,815 671.2,821" fill="none" stroke="#fff" stroke-width="3" stroke-linejoin="miter"/>
<path d="M705.3 712.6 L779.1 712.6 L778 843.2 L824 891 A36 36 0 0 1 771.8 948.4 L705.3 871 Z" fill="none" stroke="#0070c0" stroke-width="2.6" stroke-linejoin="miter"/>
<rect x="712.6" y="736.1" width="55.6" height="98.7" fill="#0070c0"/>
<rect x="843.8" y="697.5" width="108" height="264.3" fill="#dadada"/>
<line x1="848.0" y1="697.5" x2="848.0" y2="961.8" stroke="#cdcdcd" stroke-width="0.7"/>
<line x1="857.8" y1="697.5" x2="857.8" y2="961.8" stroke="#cdcdcd" stroke-width="0.7"/>
<line x1="867.6" y1="697.5" x2="867.6" y2="961.8" stroke="#cdcdcd" stroke-width="0.7"/>
<line x1="877.4" y1="697.5" x2="877.4" y2="961.8" stroke="#cdcdcd" stroke-width="0.7"/>
<line x1="887.2" y1="697.5" x2="887.2" y2="961.8" stroke="#cdcdcd" stroke-width="0.7"/>
<line x1="897.0" y1="697.5" x2="897.0" y2="961.8" stroke="#cdcdcd" stroke-width="0.7"/>
<line x1="906.8" y1="697.5" x2="906.8" y2="961.8" stroke="#cdcdcd" stroke-width="0.7"/>
<line x1="916.6" y1="697.5" x2="916.6" y2="961.8" stroke="#cdcdcd" stroke-width="0.7"/>
<line x1="926.4" y1="697.5" x2="926.4" y2="961.8" stroke="#cdcdcd" stroke-width="0.7"/>
<line x1="936.2" y1="697.5" x2="936.2" y2="961.8" stroke="#cdcdcd" stroke-width="0.7"/>
<line x1="946.0" y1="697.5" x2="946.0" y2="961.8" stroke="#cdcdcd" stroke-width="0.7"/>
<line x1="843.8" y1="703.0" x2="951.8" y2="703.0" stroke="#cdcdcd" stroke-width="0.7"/>
<line x1="843.8" y1="712.8" x2="951.8" y2="712.8" stroke="#cdcdcd" stroke-width="0.7"/>
<line x1="843.8" y1="722.6" x2="951.8" y2="722.6" stroke="#cdcdcd" stroke-width="0.7"/>
<line x1="843.8" y1="732.4" x2="951.8" y2="732.4" stroke="#cdcdcd" stroke-width="0.7"/>
<line x1="843.8" y1="742.2" x2="951.8" y2="742.2" stroke="#cdcdcd" stroke-width="0.7"/>
<line x1="843.8" y1="752.0" x2="951.8" y2="752.0" stroke="#cdcdcd" stroke-width="0.7"/>
<line x1="843.8" y1="761.8" x2="951.8" y2="761.8" stroke="#cdcdcd" stroke-width="0.7"/>
<line x1="843.8" y1="771.6" x2="951.8" y2="771.6" stroke="#cdcdcd" stroke-width="0.7"/>
<line x1="843.8" y1="781.4" x2="951.8" y2="781.4" stroke="#cdcdcd" stroke-width="0.7"/>
<line x1="843.8" y1="791.2" x2="951.8" y2="791.2" stroke="#cdcdcd" stroke-width="0.7"/>
<line x1="843.8" y1="801.0" x2="951.8" y2="801.0" stroke="#cdcdcd" stroke-width="0.7"/>
<line x1="843.8" y1="810.8" x2="951.8" y2="810.8" stroke="#cdcdcd" stroke-width="0.7"/>
<line x1="843.8" y1="820.6" x2="951.8" y2="820.6" stroke="#cdcdcd" stroke-width="0.7"/>
<line x1="843.8" y1="830.4" x2="951.8" y2="830.4" stroke="#cdcdcd" stroke-width="0.7"/>
<line x1="843.8" y1="840.2" x2="951.8" y2="840.2" stroke="#cdcdcd" stroke-width="0.7"/>
<line x1="843.8" y1="850.0" x2="951.8" y2="850.0" stroke="#cdcdcd" stroke-width="0.7"/>
<line x1="843.8" y1="859.8" x2="951.8" y2="859.8" stroke="#cdcdcd" stroke-width="0.7"/>
<line x1="843.8" y1="869.6" x2="951.8" y2="869.6" stroke="#cdcdcd" stroke-width="0.7"/>
<line x1="843.8" y1="879.4" x2="951.8" y2="879.4" stroke="#cdcdcd" stroke-width="0.7"/>
<line x1="843.8" y1="889.2" x2="951.8" y2="889.2" stroke="#cdcdcd" stroke-width="0.7"/>
<line x1="843.8" y1="899.0" x2="951.8" y2="899.0" stroke="#cdcdcd" stroke-width="0.7"/>
<line x1="843.8" y1="908.8" x2="951.8" y2="908.8" stroke="#cdcdcd" stroke-width="0.7"/>
<line x1="843.8" y1="918.6" x2="951.8" y2="918.6" stroke="#cdcdcd" stroke-width="0.7"/>
<line x1="843.8" y1="928.4" x2="951.8" y2="928.4" stroke="#cdcdcd" stroke-width="0.7"/>
<line x1="843.8" y1="938.2" x2="951.8" y2="938.2" stroke="#cdcdcd" stroke-width="0.7"/>
<line x1="843.8" y1="948.0" x2="951.8" y2="948.0" stroke="#cdcdcd" stroke-width="0.7"/>
<line x1="843.8" y1="957.8" x2="951.8" y2="957.8" stroke="#cdcdcd" stroke-width="0.7"/>
<rect x="843.8" y="697.5" width="108" height="14" fill="#dcdcdc"/>
<rect x="869.3" y="697.5" width="52" height="59.2" fill="#e8e8e6"/>
<rect x="843.8" y="697.5" width="108" height="10" fill="#e6e6e6"/>
<rect x="873" y="712" width="12" height="45" fill="#f4f4f2"/>
<rect x="889" y="712" width="12" height="45" fill="#f4f4f2"/>
<rect x="905" y="712" width="12" height="45" fill="#f4f4f2"/>
<rect x="925.3" y="711" width="11.7" height="27" fill="#e6e6e0"/>
<rect x="861.4" y="714.5" width="6" height="8" fill="#6a6a6a"/>
<rect x="882" y="714.5" width="6" height="8" fill="#6a6a6a"/>
<rect x="902.6" y="714.5" width="6" height="8" fill="#6a6a6a"/>
<rect x="928" y="735" width="6" height="8" fill="#6a6a6a"/>
<path d="M874.2 756.7 L922.3 756.7 L925.3 953 L891.9 953 Q880 880 874.2 756.7 Z" fill="#d2d8e6"/>
<path d="M905 756.7 L920.5 756.7 L925 953 L909 951 Z" fill="#3a7ad0"/>
<defs><linearGradient id="lowd" x1="0" y1="0" x2="0" y2="1"><stop offset="0" stop-color="#4a82d4" stop-opacity="0"/><stop offset="0.35" stop-color="#3a76d0" stop-opacity="0.9"/><stop offset="0.7" stop-color="#6a98d8" stop-opacity="0.7"/><stop offset="1" stop-color="#4a80d0" stop-opacity="0.9"/></linearGradient></defs>
<path d="M880 860 L922 860 L925.3 953 L891.9 953 Q884 900 880 860 Z" fill="url(#lowd)"/>
<rect x="906.6" y="759.1" width="10" height="9" fill="#dcecc0"/>
<rect x="906.6" y="781.7" width="10" height="9" fill="#dcecc0"/>
<rect x="906.6" y="803.2" width="10" height="9" fill="#dcecc0"/>
<rect x="906.6" y="826.8" width="10" height="9" fill="#dcecc0"/>
<rect x="906.6" y="847.4" width="10" height="9" fill="#dcecc0"/>
<rect x="908" y="871.0" width="9" height="7" fill="#dcecc0"/>
<rect x="909" y="883.7" width="9" height="7" fill="#dcecc0"/>
<rect x="910" y="895.5" width="9" height="7" fill="#dcecc0"/>
<rect x="911" y="908.2" width="9" height="7" fill="#dcecc0"/>
<rect x="912" y="920.0" width="9" height="7" fill="#dcecc0"/>
<rect x="913" y="930.8" width="9" height="7" fill="#dcecc0"/>
<rect x="914" y="939.6" width="9" height="7" fill="#dcecc0"/>
<rect x="914.5" y="949.0" width="9" height="6" fill="#dcecc0"/>
<rect x="732.2" y="1300.6" width="44.9" height="26.3" fill="#0070c0"/>
<text x="800" y="1326.1" font-size="28" fill="#fff" textLength="147" lengthAdjust="spacingAndGlyphs">Pressurized</text>
<rect x="884.6" y="1352.7" width="49.2" height="4.8" fill="#fff"/>
<text x="874" y="1399.5" font-size="28" fill="#fff">10mm</text>
<text transform="translate(1032 747) scale(1.077 1)" font-size="55" fill="#fff">e</text>
<line x1="1232.5" y1="1093.7" x2="1235.9" y2="1304.6" stroke="#f0f0f0" stroke-width="2.4" stroke-dasharray="11 6"/>
<line x1="1232.5" y1="1093.7" x2="1424.4" y2="1171.1" stroke="#f0f0f0" stroke-width="2.4" stroke-dasharray="11 6"/>
<path d="M1232.5 1124.7 A31 31 0 0 0 1261.2 1105.3" fill="none" stroke="#f0f0f0" stroke-width="2.1"/>
<text x="1347" y="1105.3" font-size="28.5" fill="#fff">69</text>
<circle cx="1386.2" cy="1090.9" r="2.7" fill="none" stroke="#eee" stroke-width="1.3"/>
<text x="1449" y="1190.2" font-size="27.5" fill="#00b0f0">55kPa</text>
<text x="1409.5" y="1241.6" font-size="25" fill="#92d050">45kPa</text>
<text x="1371" y="1296.8" font-size="27.5" fill="#f2ec78">34kPa</text>
<text x="1311" y="1332.7" font-size="27.5" fill="#ee8c48">23kPa</text>
<text x="1231" y="1352.9" font-size="27.5" fill="#e050c8">11kPa</text>
<text x="1484" y="845.7" font-size="26" fill="#fff" textLength="156" lengthAdjust="spacingAndGlyphs">View direction</text>
<line x1="1519.3" y1="882" x2="1630.5" y2="882" stroke="#fff" stroke-width="3"/>
<polyline points="1618.5,876 1631.5,882 1618.5,888" fill="none" stroke="#fff" stroke-width="3" stroke-linejoin="miter"/>
<path d="M1664.6 823.6 L1772.3 703.5 L1828.1 752.3 L1738.5 850.5 L1737.3 926 A36.3 36.3 0 0 1 1664.6 926 Z" fill="none" stroke="#0070c0" stroke-width="2.6"/>
<rect x="1672.4" y="857.4" width="59.1" height="50.6" fill="#0070c0"/>
<rect x="1842.8" y="705.3" width="110.8" height="257.8" fill="#e4e4e4"/>
<line x1="1848.0" y1="705.3" x2="1848.0" y2="963.1" stroke="#dadada" stroke-width="0.6"/>
<line x1="1858.0" y1="705.3" x2="1858.0" y2="963.1" stroke="#dadada" stroke-width="0.6"/>
<line x1="1868.0" y1="705.3" x2="1868.0" y2="963.1" stroke="#dadada" stroke-width="0.6"/>
<line x1="1878.0" y1="705.3" x2="1878.0" y2="963.1" stroke="#dadada" stroke-width="0.6"/>
<line x1="1888.0" y1="705.3" x2="1888.0" y2="963.1" stroke="#dadada" stroke-width="0.6"/>
<line x1="1898.0" y1="705.3" x2="1898.0" y2="963.1" stroke="#dadada" stroke-width="0.6"/>
<line x1="1908.0" y1="705.3" x2="1908.0" y2="963.1" stroke="#dadada" stroke-width="0.6"/>
<line x1="1918.0" y1="705.3" x2="1918.0" y2="963.1" stroke="#dadada" stroke-width="0.6"/>
<line x1="1928.0" y1="705.3" x2="1928.0" y2="963.1" stroke="#dadada" stroke-width="0.6"/>
<line x1="1938.0" y1="705.3" x2="1938.0" y2="963.1" stroke="#dadada" stroke-width="0.6"/>
<line x1="1948.0" y1="705.3" x2="1948.0" y2="963.1" stroke="#dadada" stroke-width="0.6"/>
<line x1="1842.8" y1="710.0" x2="1953.6" y2="710.0" stroke="#dadada" stroke-width="0.6"/>
<line x1="1842.8" y1="720.0" x2="1953.6" y2="720.0" stroke="#dadada" stroke-width="0.6"/>
<line x1="1842.8" y1="730.0" x2="1953.6" y2="730.0" stroke="#dadada" stroke-width="0.6"/>
<line x1="1842.8" y1="740.0" x2="1953.6" y2="740.0" stroke="#dadada" stroke-width="0.6"/>
<line x1="1842.8" y1="750.0" x2="1953.6" y2="750.0" stroke="#dadada" stroke-width="0.6"/>
<line x1="1842.8" y1="760.0" x2="1953.6" y2="760.0" stroke="#dadada" stroke-width="0.6"/>
<line x1="1842.8" y1="770.0" x2="1953.6" y2="770.0" stroke="#dadada" stroke-width="0.6"/>
<line x1="1842.8" y1="780.0" x2="1953.6" y2="780.0" stroke="#dadada" stroke-width="0.6"/>
<line x1="1842.8" y1="790.0" x2="1953.6" y2="790.0" stroke="#dadada" stroke-width="0.6"/>
<line x1="1842.8" y1="800.0" x2="1953.6" y2="800.0" stroke="#dadada" stroke-width="0.6"/>
<line x1="1842.8" y1="810.0" x2="1953.6" y2="810.0" stroke="#dadada" stroke-width="0.6"/>
<line x1="1842.8" y1="820.0" x2="1953.6" y2="820.0" stroke="#dadada" stroke-width="0.6"/>
<line x1="1842.8" y1="830.0" x2="1953.6" y2="830.0" stroke="#dadada" stroke-width="0.6"/>
<line x1="1842.8" y1="840.0" x2="1953.6" y2="840.0" stroke="#dadada" stroke-width="0.6"/>
<line x1="1842.8" y1="850.0" x2="1953.6" y2="850.0" stroke="#dadada" stroke-width="0.6"/>
<line x1="1842.8" y1="860.0" x2="1953.6" y2="860.0" stroke="#dadada" stroke-width="0.6"/>
<line x1="1842.8" y1="870.0" x2="1953.6" y2="870.0" stroke="#dadada" stroke-width="0.6"/>
<line x1="1842.8" y1="880.0" x2="1953.6" y2="880.0" stroke="#dadada" stroke-width="0.6"/>
<line x1="1842.8" y1="890.0" x2="1953.6" y2="890.0" stroke="#dadada" stroke-width="0.6"/>
<line x1="1842.8" y1="900.0" x2="1953.6" y2="900.0" stroke="#dadada" stroke-width="0.6"/>
<line x1="1842.8" y1="910.0" x2="1953.6" y2="910.0" stroke="#dadada" stroke-width="0.6"/>
<line x1="1842.8" y1="920.0" x2="1953.6" y2="920.0" stroke="#dadada" stroke-width="0.6"/>
<line x1="1842.8" y1="930.0" x2="1953.6" y2="930.0" stroke="#dadada" stroke-width="0.6"/>
<line x1="1842.8" y1="940.0" x2="1953.6" y2="940.0" stroke="#dadada" stroke-width="0.6"/>
<line x1="1842.8" y1="950.0" x2="1953.6" y2="950.0" stroke="#dadada" stroke-width="0.6"/>
<line x1="1842.8" y1="960.0" x2="1953.6" y2="960.0" stroke="#dadada" stroke-width="0.6"/>
<rect x="1842.8" y="719" width="110.8" height="11.3" fill="#eaeae8"/>
<path d="M1858.8 721 L1864.8 721 L1861.8 727 Z" fill="#606060"/>
<path d="M1891.9 721 L1897.9 721 L1894.9 727 Z" fill="#606060"/>
<path d="M1906.1 721 L1912.1 721 L1909.1 727 Z" fill="#606060"/>
<path d="M1935.4 721 L1941.4 721 L1938.4 727 Z" fill="#606060"/>
<defs><linearGradient id="pale" x1="0" y1="0" x2="1" y2="0"><stop offset="0" stop-color="#dfe4ee"/><stop offset="0.6" stop-color="#c8d4ea"/><stop offset="1" stop-color="#8aaae0"/></linearGradient></defs>
<path d="M1886.4 736.9 L1914.8 736.9 L1927.1 948 Q1912 953 1902.5 950.8 Q1890 945 1890.2 934.7 Z" fill="url(#pale)"/>
<path d="M1908 736.9 L1914.8 736.9 L1927.1 948 L1919 948 Z" fill="#3a70c8"/>
<path d="M1887.8 847.6 L1920.5 847.6 L1927.1 948 Q1912 953 1902.5 950.8 Q1890 945 1890.2 934.7 Z" fill="#3a6ec0"/>
<rect x="1888" y="880" width="28" height="30" fill="#ffffff" opacity="0.3"/>
<rect x="1906.3" y="741.0" width="8" height="7" fill="#dcecc4"/>
<rect x="1906.5" y="751.4" width="8" height="7" fill="#dcecc4"/>
<rect x="1906.6" y="761.8" width="8" height="7" fill="#dcecc4"/>
<rect x="1906.8" y="771.8" width="8" height="7" fill="#dcecc4"/>
<rect x="1905" y="782.6" width="8" height="7" fill="#dcecc4"/>
<rect x="1906" y="795.9" width="8" height="7" fill="#dcecc4"/>
<rect x="1907" y="812.0" width="8" height="7" fill="#dcecc4"/>
<rect x="1907.5" y="829.9" width="8" height="7" fill="#dcecc4"/>
<rect x="1908" y="846.0" width="8" height="7" fill="#dcecc4"/>
<rect x="1909.5" y="861.2" width="8" height="7" fill="#dcecc4"/>
<rect x="1911" y="879.2" width="8" height="7" fill="#dcecc4"/>
<rect x="1913" y="895.3" width="8" height="7" fill="#dcecc4"/>
<rect x="1915" y="912.3" width="8" height="7" fill="#dcecc4"/>
<rect x="1916" y="926.5" width="8" height="7" fill="#dcecc4"/>
<rect x="1918" y="942.6" width="8" height="7" fill="#dcecc4"/>
<rect x="1726.1" y="1306.6" width="44.5" height="26.5" fill="#0070c0"/>
<text x="1795" y="1331.7" font-size="28" fill="#fff" textLength="147" lengthAdjust="spacingAndGlyphs">Pressurized</text>
<rect x="1878.8" y="1359.7" width="49.5" height="4.3" fill="#fff"/>
<text x="1868" y="1405.6" font-size="28" fill="#fff">10mm</text>
</svg>
</body></html>
